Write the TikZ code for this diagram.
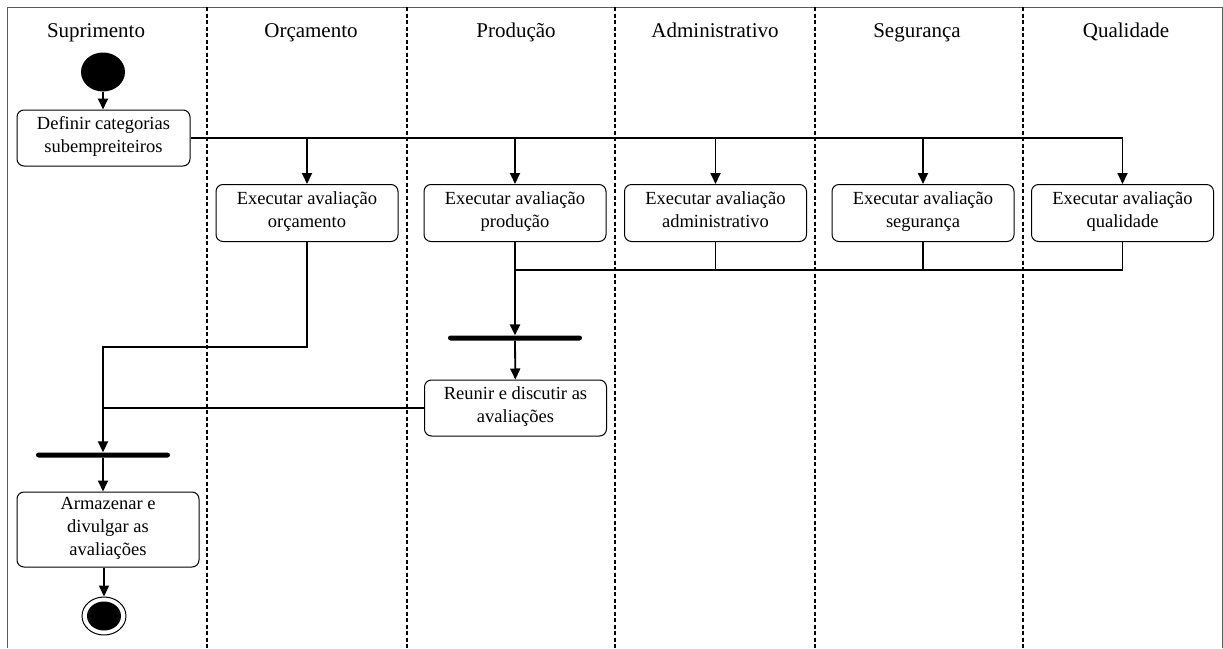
\documentclass[tikz,border=0pt]{standalone}
\usepackage{fontspec}
\setmainfont{Liberation Serif}
\usetikzlibrary{arrows.meta,shapes.geometric}

\begin{document}
\begin{tikzpicture}[x=1pt,y=-1pt,
	lane/.style={line width=1.6pt,dash pattern=on 4pt off 2.5pt},
	cab/.style={anchor=base,font=\fontsize{21}{25}\selectfont},
	act/.style={draw,line width=1pt,rounded corners=7pt,minimum width=182pt,minimum height=57pt,align=center,inner sep=2pt,font=\fontsize{18.5}{23}\selectfont,execute at begin node=\strut,execute at end node=\strut},
	barra/.style={fill,rounded corners=2.5pt,minimum width=134pt,minimum height=5pt,inner sep=0pt},
	seta/.style={line width=1.8pt,-{Triangle[length=11pt,width=10pt]}},
	fluxo/.style={line width=1.8pt}]
	\useasboundingbox (0,0) rectangle (1223,648);
	\draw[gray!70!black,line width=1pt] (7.5,648) -- (7.5,7) -- (1222,7) -- (1222,648);
	\foreach \x in {207,407,615,815,1023} \draw[lane] (\x,7) -- (\x,648);
	% raias
	\node[cab] (hsup) at (96,37) {Suprimento};
	\node[cab] (horc) at (311,37) {Orçamento};
	\node[cab] (hprod) at (516,37) {Produção};
	\node[cab] (hadm) at (715,37) {Administrativo};
	\node[cab] (hseg) at (917,37) {Segurança};
	\node[cab] (hqual) at (1126,37) {Qualidade};
	% atividades
	\node[ellipse,fill,minimum width=44pt,minimum height=39pt,inner sep=0pt] (ini) at (103,72) {};
	\node[act,minimum width=173pt,minimum height=56pt] (def) at (103.5,138) {Definir categorias\\subempreiteiros};
	\node[act] (orc) at (307,213) {Executar avaliação\\orçamento};
	\node[act] (prod) at (515,213) {Executar avaliação\\produção};
	\node[act] (adm) at (715.5,213) {Executar avaliação\\administrativo};
	\node[act] (seg) at (923,213) {Executar avaliação\\segurança};
	\node[act] (qual) at (1122.5,213) {Executar avaliação\\qualidade};
	\node[barra] (b1) at (515,338) {};
	\node[act,minimum height=56pt] (reun) at (515.5,408) {Reunir e discutir as\\avaliações};
	\node[barra] (b2) at (103,455) {};
	\node[act,minimum height=75pt] (arm) at (108,529.5) {Armazenar e\\divulgar as\\avaliações};
	\node[ellipse,draw,line width=1pt,minimum width=44pt,minimum height=38pt,inner sep=0pt] (fim) at (104,616) {};
	\fill (fim.center) ellipse (17pt and 14.5pt);
	\coordinate (j) at (515,270);
	\coordinate (k) at (103,347);
	% fluxo
	\draw[seta] (ini.south) -- (ini.south |- def.north);
	\draw[fluxo] (def.east) -- (def.east -| qual.north);
	\foreach \n in {orc,prod,adm,seg,qual} \draw[seta] (def.east -| \n.north) -- (\n.north);
	\foreach \n in {prod,adm,seg,qual} \draw[fluxo] (\n.south) -- (\n.south |- j);
	\draw[fluxo] (j) -- (j -| qual.south);
	\draw[seta,line width=2.6pt] (j) -- (b1);
	\draw[seta] (b1) -- (reun);
	\draw[seta] (orc.south) |- (k) -- (b2);
	\draw[fluxo] (reun.west) -- (reun.west -| k);
	\draw[seta] (b2) -- (b2 |- arm.north);
	\draw[seta] (arm.south -| fim) -- (fim);
\end{tikzpicture}
\end{document}
